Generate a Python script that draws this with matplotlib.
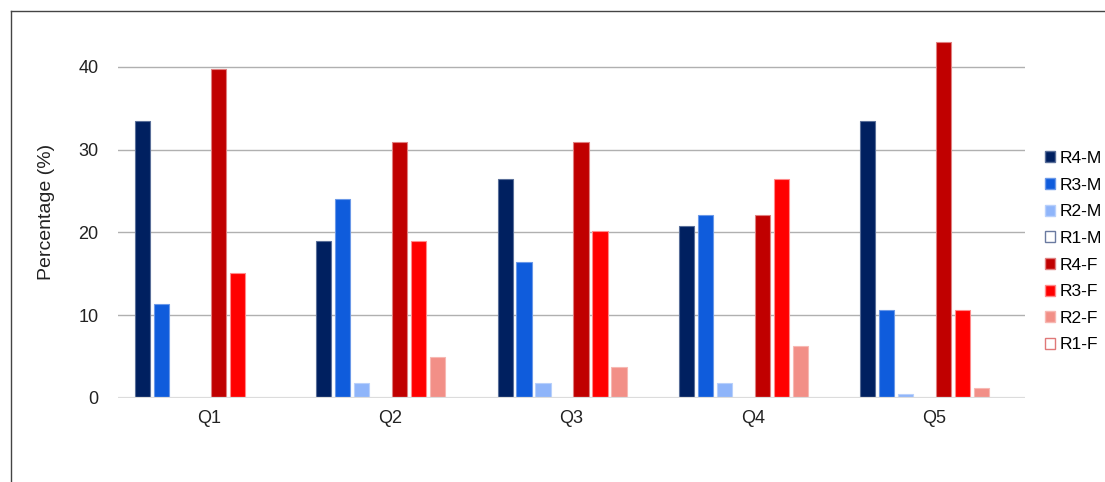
import numpy as np
import matplotlib
matplotlib.use('Agg')
from matplotlib import pyplot as plt
from matplotlib.patches import Patch
from matplotlib.lines import Line2D

plt.rcParams['font.family'] = ['Liberation Sans', 'DejaVu Sans']

# Data
questions = ['Q1', 'Q2', 'Q3', 'Q4', 'Q5']
series = ['R4-M', 'R3-M', 'R2-M', 'R1-M', 'R4-F', 'R3-F', 'R2-F', 'R1-F']
r4_m = [33.5, 19.0, 26.5, 20.8, 33.5]
r3_m = [11.3, 24.0, 16.4, 22.1, 10.6]
r2_m = [0.0, 1.85, 1.85, 1.8, 0.5]
r1_m = [0.0, 0.0, 0.0, 0.0, 0.0]
r4_f = [39.8, 30.9, 30.9, 22.1, 43.0]
r3_f = [15.1, 19.0, 20.2, 26.5, 10.6]
r2_f = [0.0, 4.95, 3.75, 6.25, 1.2]
r1_f = [0.0, 0.0, 0.0, 0.0, 0.0]
values = [r4_m, r3_m, r2_m, r1_m, r4_f, r3_f, r2_f, r1_f]

fills = ['#002060', '#0f5cdc', '#8fb5fa', 'white',
         '#c00000', '#ff0000', '#f28f87', 'white']
edges = ['#5a6f99', '#6a98e8', '#b8d0fb', '#6a7aa0',
         '#e08080', '#ff8a8a', '#f7b8b3', '#e07878']

fig = plt.figure(figsize=(11.05, 4.82), dpi=100)
ax = fig.add_axes([0.1068, 0.1743, 0.8208, 0.7726])

x = np.arange(len(questions))
step = 0.1047
width = 0.083
for i, vals in enumerate(values):
    v = np.array(vals)
    ax.bar(x + (i - 3.5) * step, v, width=width, color=fills[i],
           edgecolor=edges[i], linewidth=0.8 if v.max() > 0 else 0,
           zorder=3)

ax.set_xlim(-0.5, len(questions) - 0.5)
ax.set_ylim(0, 45)
ax.set_yticks([0, 10, 20, 30, 40])
ax.set_xticks(x)
ax.set_xticklabels(questions)
ax.tick_params(length=0, labelsize=13, colors='#222222')
ax.tick_params(axis='y', pad=14)
ax.tick_params(axis='x', pad=9)
for s in ax.spines.values():
    s.set_visible(False)
for yv in [10, 20, 30, 40]:
    ax.axhline(yv, color='#b0b0b0', linewidth=1, zorder=1)
ax.axhline(0, color='#dcdcdc', linewidth=1.6, zorder=4)
ax.set_ylabel('Percentage (%)', fontsize=14, color='#222222', labelpad=17)

handles = [Patch(facecolor=fills[i], edgecolor=edges[i], linewidth=1)
           for i in range(len(series))]
fig.legend(handles, series, loc='upper left',
           bbox_to_anchor=(1045 / 1105, 1 - 151 / 482), frameon=False,
           fontsize=12.5, handlelength=0.6, handleheight=0.6,
           handletextpad=0.25, labelspacing=0.67, borderaxespad=0,
           borderpad=0)

# outer frame fragments (left and top edges)
fig.add_artist(Line2D([10.5 / 1105, 10.5 / 1105], [0, 1 - 11 / 482],
                      color='#444444', linewidth=1))
fig.add_artist(Line2D([10.5 / 1105, 1], [1 - 11 / 482, 1 - 11 / 482],
                      color='#444444', linewidth=1))

fig.savefig('out.png', dpi=100)
